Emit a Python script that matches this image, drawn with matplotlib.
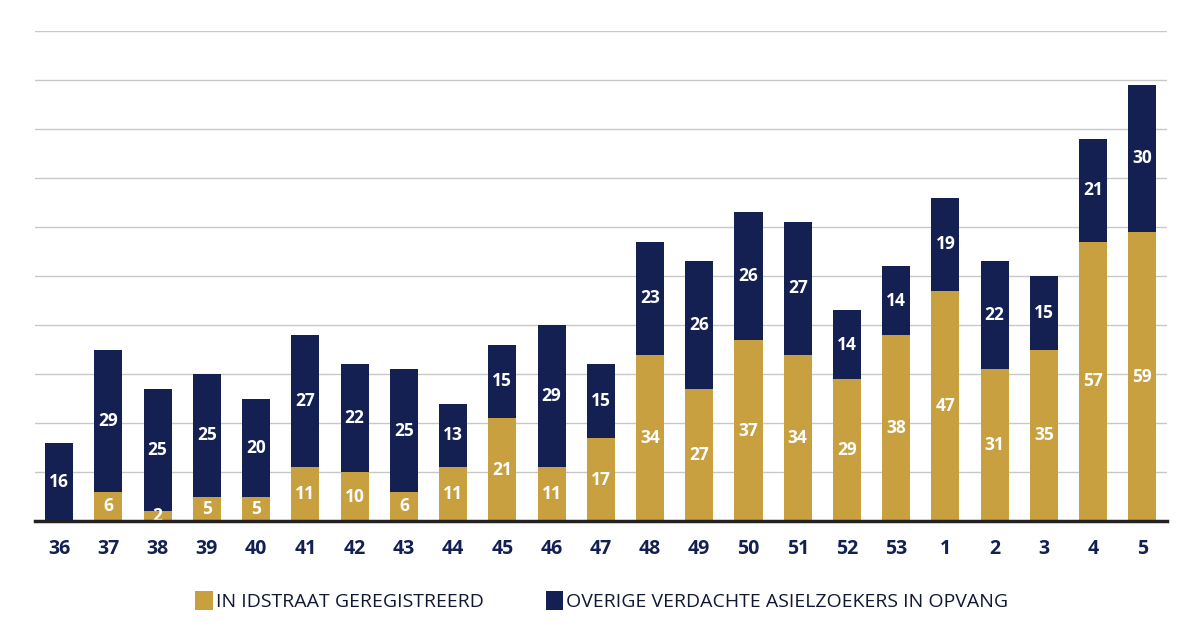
import matplotlib.pyplot as plt
from matplotlib.patches import Patch

# week numbers and counts
weeks = ['36', '37', '38', '39', '40', '41', '42', '43', '44', '45', '46', '47',
         '48', '49', '50', '51', '52', '53', '1', '2', '3', '4', '5']
registered = [0, 6, 2, 5, 5, 11, 10, 6, 11, 21, 11, 17,
              34, 27, 37, 34, 29, 38, 47, 31, 35, 57, 59]
other = [16, 29, 25, 25, 20, 27, 22, 25, 13, 15, 29, 15,
         23, 26, 26, 27, 14, 14, 19, 22, 15, 21, 30]

gold = '#C9A040'
navy = '#141F52'

plt.rcParams['font.family'] = ['Open Sans', 'DejaVu Sans']

fig = plt.figure(figsize=(11.92, 6.31), dpi=100)
ax = fig.add_axes([0.029, 0.174, 0.95, 0.777])

x = list(range(len(weeks)))
w = 0.57
ax.bar(x, registered, width=w, color=gold, zorder=2)
ax.bar(x, other, width=w, bottom=registered, color=navy, zorder=2)

for i in x:
    if registered[i] > 0:
        ax.text(i, max(registered[i] / 2, 1.0), str(registered[i]), ha='center', va='center',
                color='white', fontsize=12.5, fontweight='bold', zorder=3)
    ax.text(i, registered[i] + other[i] / 2, str(other[i]), ha='center', va='center',
            color='white', fontsize=12.5, fontweight='bold', zorder=3)

ax.set_xlim(-0.5, len(weeks) - 0.5)
ax.set_ylim(0, 100)
ax.set_yticks(range(10, 101, 10))
ax.yaxis.grid(True, color='#c8c8c8', linewidth=1, zorder=0)
ax.set_axisbelow(True)
ax.tick_params(axis='y', left=False, labelleft=False)
ax.tick_params(axis='x', length=0, pad=13)
ax.set_xticks(x)
ax.set_xticklabels(weeks, fontsize=14, fontweight='bold', color=navy)
for s in ['top', 'right', 'left']:
    ax.spines[s].set_visible(False)
ax.spines['bottom'].set_linewidth(2.5)
ax.spines['bottom'].set_color('#222222')
ax.spines['bottom'].set_zorder(4)

handles = [Patch(facecolor=gold, label='IN IDSTRAAT GEREGISTREERD'),
           Patch(facecolor=navy, label='OVERIGE VERDACHTE ASIELZOEKERS IN OPVANG')]
fig.legend(handles=handles, loc='center', bbox_to_anchor=(0.505, 0.047), ncol=2,
           frameon=False, fontsize=14, handlelength=0.9, handleheight=1.1,
           handletextpad=0.15, columnspacing=3.2, labelcolor='#111833')

fig.savefig('out.png', dpi=100, facecolor='white')
